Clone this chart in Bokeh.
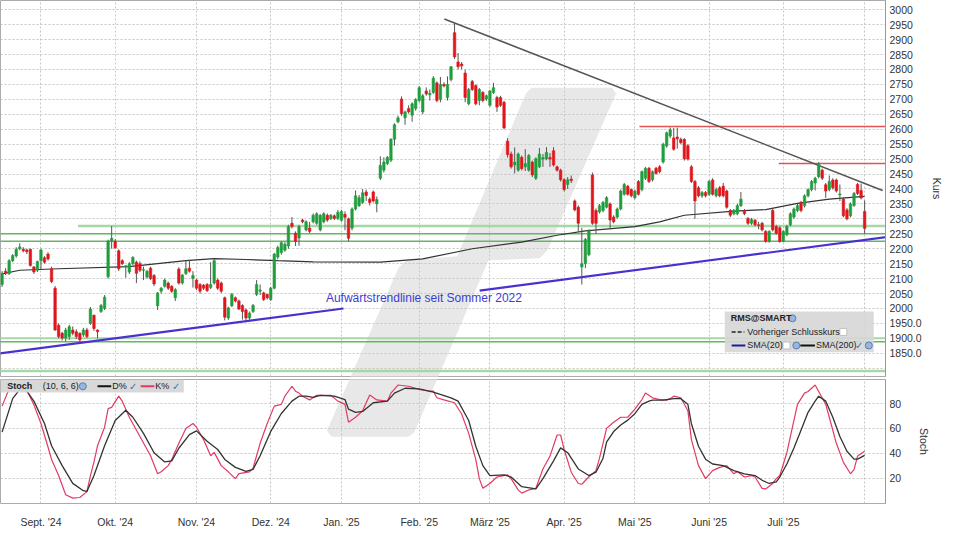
from bokeh.plotting import figure
from bokeh.layouts import column
from bokeh.models import ColumnDataSource, FixedTicker, Range1d, Label
from bokeh.embed import file_html
from bokeh.resources import INLINE

FONT = "Liberation Sans"

# ---------------- data ----------------
# trading-day index 0 = 16 Aug 2024 ... 244 = 1 Aug 2025
opens = [2080,2125,2117,2160,2176,2200,2198,2196,2198,2139,2128,2160,2170,2182,2133,2068,1944,1917,1901,1906,
         1928,1922,1917,1912,1928,1950,1977,1928,1990,2000,2106,2225,2225,2193,2160,2140,2122,2150,2155,2150,
         2128,2105,2135,2110,2009,2058,2074,2085,2074,2036,2132,2085,2117,2135,2100,2095,2080,2078,2080,2070,
         2085,2095,2085,2036,1968,2009,2036,2025,2010,1995,1968,1990,2047,2058,2052,2047,2030,2068,2172,2187,
         2195,2209,2285,2252,2236,2296,2263,2269,2290,2285,2263,2290,2312,2301,2310,2301,2295,2315,2300,2269,
         2333,2344,2355,2390,2366,2390,2350,2436,2463,2485,2496,2566,2625,2701,2638,2669,2647,2669,2696,2658,
         2728,2715,2723,2755,2700,2750,2706,2766,2923,2825,2818,2788,2685,2760,2746,2696,2723,2701,2680,2723,
         2706,2706,2690,2560,2517,2480,2463,2506,2474,2463,2490,2436,2474,2500,2501,2505,2528,2474,2463,2431,
         2415,2433,2360,2339,2139,2150,2180,2447,2328,2323,2328,2339,2350,2306,2306,2333,2382,2409,2398,2371,
         2425,2398,2436,2469,2431,2469,2474,2490,2544,2577,2571,2574,2566,2566,2545,2474,2425,2404,2377,2388,
         2382,2430,2377,2404,2409,2393,2328,2317,2317,2344,2328,2301,2285,2295,2280,2285,2258,2225,2328,2274,
         2270,2225,2247,2280,2306,2328,2355,2344,2377,2398,2420,2441,2463,2414,2398,2430,2430,2380,2366,2330,
         2310,2345,2415,2395,2325]
highs = [2125,2135,2165,2182,2205,2218,2205,2200,2200,2142,2160,2200,2175,2188,2140,2075,1950,1922,1935,1945,
         1940,1930,1920,1935,1935,2005,1980,1930,2015,2045,2230,2276,2232,2198,2165,2145,2155,2175,2160,2158,
         2140,2128,2140,2115,2055,2072,2100,2090,2078,2068,2138,2115,2160,2163,2125,2100,2085,2082,2085,2155,
         2165,2100,2090,2040,2006,2052,2040,2030,2014,2000,1990,2015,2095,2080,2056,2050,2072,2186,2210,2225,
         2222,2280,2306,2258,2280,2300,2295,2290,2318,2322,2316,2322,2318,2316,2315,2330,2330,2325,2304,2338,
         2395,2380,2400,2398,2372,2395,2375,2509,2506,2510,2570,2620,2645,2710,2662,2680,2690,2704,2745,2718,
         2740,2733,2778,2760,2775,2757,2777,2812,2955,2855,2825,2800,2738,2765,2750,2738,2728,2716,2732,2755,
         2712,2712,2695,2570,2525,2539,2522,2512,2533,2517,2495,2506,2537,2517,2540,2520,2540,2478,2468,2436,
         2440,2445,2365,2345,2270,2236,2265,2455,2335,2350,2360,2376,2355,2312,2338,2398,2420,2414,2402,2398,
         2430,2462,2474,2474,2462,2474,2480,2555,2592,2606,2604,2605,2572,2570,2550,2480,2430,2410,2393,2393,
         2430,2436,2405,2410,2420,2398,2333,2333,2350,2390,2333,2306,2303,2300,2290,2290,2262,2262,2335,2280,
         2275,2262,2280,2322,2338,2350,2360,2382,2402,2430,2441,2490,2468,2420,2445,2436,2435,2415,2372,2336,
         2355,2390,2420,2418,2362]
lows = [2072,2112,2112,2155,2170,2195,2188,2182,2140,2116,2122,2130,2150,2160,2085,1925,1900,1893,1890,1895,
        1910,1898,1885,1905,1900,1945,1925,1900,1985,1995,2100,2200,2200,2125,2145,2103,2115,2145,2085,2122,
        2095,2100,2095,2075,1995,2050,2070,2062,2052,2025,2080,2080,2112,2120,2070,2062,2050,2062,2055,2065,
        2080,2062,2052,1960,1962,2005,2020,1995,1963,1960,1962,1985,2042,2045,2025,2030,2025,2064,2165,2180,
        2190,2200,2268,2209,2210,2285,2258,2252,2285,2280,2258,2285,2290,2296,2296,2296,2290,2262,2225,2262,
        2328,2340,2350,2360,2345,2355,2322,2430,2455,2480,2490,2545,2620,2645,2615,2652,2625,2662,2690,2650,
        2712,2696,2718,2690,2690,2740,2696,2760,2835,2800,2800,2690,2680,2728,2680,2680,2690,2695,2675,2718,
        2658,2675,2600,2505,2468,2452,2458,2462,2460,2458,2440,2430,2470,2474,2496,2474,2475,2458,2425,2392,
        2400,2420,2325,2258,2080,2135,2175,2280,2250,2318,2322,2335,2268,2285,2300,2328,2378,2378,2372,2365,
        2378,2392,2430,2420,2425,2448,2452,2485,2538,2570,2528,2535,2550,2495,2495,2420,2300,2372,2370,2372,
        2377,2378,2372,2372,2372,2334,2306,2312,2312,2340,2312,2280,2280,2275,2265,2258,2220,2220,2258,2247,
        2220,2222,2242,2275,2300,2322,2322,2338,2372,2392,2395,2436,2430,2370,2392,2398,2388,2360,2305,2295,
        2305,2340,2380,2365,2250]
closes = [2118,2120,2160,2177,2198,2206,2193,2190,2144,2122,2157,2196,2155,2166,2090,1928,1906,1901,1928,1939,
          1917,1906,1895,1928,1906,1998,1933,1922,2010,2038,2225,2235,2203,2133,2150,2143,2150,2171,2118,2128,
          2130,2125,2100,2082,2052,2068,2095,2068,2058,2063,2085,2112,2133,2125,2110,2068,2058,2068,2060,2080,
          2160,2068,2058,1971,2002,2047,2025,1998,1990,1968,1985,2010,2080,2062,2030,2036,2068,2182,2204,2220,
          2215,2274,2274,2225,2274,2290,2290,2258,2312,2317,2312,2317,2296,2312,2301,2322,2325,2305,2235,2333,
          2377,2371,2387,2378,2355,2360,2365,2479,2490,2506,2566,2615,2638,2652,2658,2658,2685,2699,2739,2712,
          2718,2720,2771,2696,2750,2745,2750,2809,2842,2809,2812,2706,2733,2733,2685,2733,2696,2712,2728,2739,
          2674,2680,2604,2515,2474,2490,2517,2468,2485,2512,2447,2501,2517,2505,2522,2500,2480,2463,2431,2398,
          2431,2428,2330,2285,2150,2231,2260,2285,2285,2344,2355,2371,2296,2290,2333,2393,2415,2382,2377,2393,
          2382,2458,2469,2425,2458,2452,2458,2550,2588,2598,2533,2568,2555,2501,2500,2425,2360,2377,2388,2377,
          2425,2382,2398,2377,2377,2339,2312,2328,2344,2366,2317,2285,2298,2280,2278,2263,2225,2258,2263,2252,
          2225,2258,2274,2317,2333,2344,2328,2377,2398,2425,2436,2485,2436,2393,2425,2404,2393,2383,2310,2300,
          2350,2385,2385,2370,2268]

month_days = [11, 32, 55, 76, 96, 118, 138, 159, 179, 200, 221, 244]
month_labels = ["Sept. '24", "Okt. '24", "Nov. '24", "Dez. '24", "Jan. '25", "Feb. '25",
                "M\u00e4rz '25", "Apr. '25", "Mai '25", "Juni '25", "Juli '25", ""]

price_ticks = list(range(1800, 3001, 50))
stoch_ticks = [20, 40, 60, 80]

sma200_days = [0, 5, 16, 36, 52, 60, 69, 78, 88, 107, 119, 133, 147, 157, 165, 179, 186, 193, 207, 216, 225, 234, 244]
sma200_vals = [2116, 2128, 2133, 2140, 2160, 2167, 2164, 2160, 2156, 2155, 2166, 2200, 2222, 2245, 2260, 2274, 2290,
               2312, 2326, 2331, 2352, 2366, 2375]

k_days = [0,2,5,7,9,11,13,14,16,18,20,22,24,25,26,27,29,30,31,33,34,36,39,42,44,45,47,48,50,52,54,55,57,59,60,62,64,
          66,67,70,71,73,75,77,79,80,82,83,84,85,87,89,93,95,97,98,100,102,104,106,109,110,112,115,118,121,122,123,
          125,128,130,132,134,135,136,138,140,143,144,146,147,149,151,153,155,157,158,159,161,163,164,166,168,169,
          170,171,173,175,177,179,181,182,184,186,188,189,190,192,194,195,197,199,201,203,205,207,208,210,212,213,
          215,216,218,219,220,222,223,225,227,228,230,231,233,234,236,238,240,241,242,244]
k_vals = [78,92,96,91,79,64,45,35,22,6.5,3.8,4.3,9,22,33,46,61,76,77,86,82,69,53.5,38,23.5,25,30,35,48,60,64,61,51,38,
          40.7,30,25,19.5,23.5,25,28,48,64,78,79.4,86,94,90,88.5,86,83,86.7,86.7,82,79.4,65,69,74.3,87,83,82,88.5,95,
          94,91.5,90,90,84.7,83,80.7,71.6,56,35,19.5,11.7,15.6,20.8,22.6,19.5,10.4,7.8,10.4,11.7,27.3,37.7,54.7,54.7,
          43,24.7,15.6,15,21,26,36,48,60,65,69,69,75.5,83.3,88.5,84.7,83.3,82.8,84,86,84.7,74.3,51,30,19.5,26,28.6,30,
          23.4,25.3,20.8,22,20.8,11.7,11.2,15.6,19.5,22,40.4,53.5,79.4,88.5,89.8,95,89.8,79.4,69,48,32.6,23.4,26.8,
          37.7,41.6]

d_days = [0,2,3,5,7,9,12,14,17,20,23,24,26,29,32,35,37,40,43,46,48,50,53,55,58,61,63,66,69,71,73,76,79,82,84,86,88,
          90,94,97,98,100,102,105,109,111,114,118,122,127,129,132,134,136,138,142,144,147,151,153,156,158,160,163,
          166,168,170,171,173,175,177,179,181,183,184,187,190,192,194,195,197,199,201,204,207,210,213,215,217,219,
          220,222,224,226,228,230,231,233,235,237,239,241,242,244]
d_vals = [57,75,84,91.5,90,82,64,46,30,15.7,9.8,9.2,22,46,66.4,74.7,69,56,40.4,33,33.8,44,55,58,49.7,43,35,28.6,25.3,
          27,38,57.6,72,82,86,86,85,86.7,86,83.3,75.5,73,73.7,80.7,82,88.5,92.4,91.9,89.3,84.7,82,66.4,45.6,30,22,
          22.6,20.8,13,11.2,19.5,33.8,44.3,40.4,27.3,22,24.7,36,49,57.5,62.8,66.7,71.9,79.4,82,82.8,82.8,84,84,79.4,
          63.8,45.6,35.2,31.3,30,26,23.4,22,18.2,15.6,16.9,20.8,31.3,44.3,58.6,73,82,86,82,69,53.5,41.6,35.2,35.2,
          38.3]

green_levels = [2276, 2250, 2225, 1900, 1889, 1791]
green_start_days = [21.5, -1, -1, -1, -1, -1]
red_levels = [2609, 2485]
red_start_days = [180.3, 219.7]
down_trend_days = [125.1, 249.1]
down_trend_prices = [2969, 2395]
up_trend_days = [[-1, 96.6], [135.1, 251]]
up_trend_prices = [[1849, 2000], [2060, 2240]]

# ---------------- helpers (reference-pixel geometry for decorations) ----------------
def mx(px):
    return (px - 1.6) / 3.607

def my(py):
    return 3000 - (py - 9.5) * 3.2435

def sy(py):
    return (518.3 - py) / 1.28

GRID = "#c6c6c6"
OUT = "#ababab"
GREEN = "#1f9e3c"
RED = "#e0161c"

n = len(closes)
days = list(range(n))
colors = [GREEN if c >= o else RED for o, c in zip(opens, closes)]
tops = [max(o, c) for o, c in zip(opens, closes)]
bottoms = [min(o, c) for o, c in zip(opens, closes)]
src = ColumnDataSource(dict(x=days, high=highs, low=lows, top=tops, bottom=bottoms, color=colors))

x_range = Range1d(mx(0), mx(903))

# watermark outline (reference pixels)
wm = [(542, 90), (624, 90), (628, 96), (558, 258), (550, 266), (498, 268),
      (422, 446), (416, 450), (338, 450), (333, 444), (406, 276), (414, 268), (466, 264),
      (536, 96)]

# ---------------- main price panel ----------------
p = figure(frame_width=885, frame_height=376, x_range=x_range, y_range=Range1d(my(388), my(0)),
           y_axis_location="right", toolbar_location=None, output_backend="svg",
           min_border_left=0, min_border_top=0, min_border_bottom=3, min_border_right=55)
p.outline_line_color = OUT
p.xaxis.visible = False
p.xgrid.ticker = FixedTicker(ticks=month_days)
p.ygrid.ticker = FixedTicker(ticks=price_ticks)
for g in (p.xgrid, p.ygrid):
    g.grid_line_color = GRID
    g.grid_line_dash = "2 2"
ya = p.yaxis[0]
ya.ticker = FixedTicker(ticks=price_ticks)
ya.major_label_overrides = {1800: "", 1850: "1850.0", 1900: "1900.0", 1950: "1950.0"}
ya.major_label_text_font = FONT
ya.major_label_text_font_size = "10.5px"
ya.major_label_text_color = "#333333"
ya.axis_line_color = "#999999"
ya.major_tick_out = 0
ya.major_tick_in = 0
ya.minor_tick_line_color = None
ya.major_label_standoff = 4
ya.axis_label = "Kurs"
ya.axis_label_text_font = FONT
ya.axis_label_text_font_size = "10.5px"
ya.axis_label_text_font_style = "normal"
ya.axis_label_text_color = "#333333"
ya.axis_label_standoff = 6

p.patch([mx(a) for a, b in wm], [my(b) for a, b in wm], fill_color="#e8e8e8", line_color=None, level="image")

# horizontal support / resistance lines
end_day = mx(903)
for lvl, st, col, w in zip(green_levels, green_start_days,
                           ["#a6d8a6", "#68b468", "#68b468", "#a6d8a6", "#68b468", "#a6d8a6"],
                           [2.5, 1.5, 1.5, 2, 1.5, 2.5]):
    p.segment(x0=[st], y0=[lvl], x1=[end_day], y1=[lvl], line_color=col, line_width=w)
for lvl, st in zip(red_levels, red_start_days):
    p.segment(x0=[st], y0=[lvl], x1=[end_day], y1=[lvl], line_color="#e05555", line_width=1.5)

# trend lines
p.line(down_trend_days, down_trend_prices, line_color="#555555", line_width=1.5)
p.multi_line(up_trend_days, up_trend_prices, line_color="#4a30d0", line_width=2.2)

# SMA 200
p.line(sma200_days, sma200_vals, line_color="#333333", line_width=1.2)

# candles
p.segment(x0="x", y0="low", x1="x", y1="high", source=src, line_color="#555555", line_width=1)
p.vbar(x="x", width=0.7, top="top", bottom="bottom", source=src, fill_color="color", line_color="color",
       line_width=0.6)

p.add_layout(Label(x=mx(332), y=my(307), text="Aufw\u00e4rtstrendlinie seit Sommer 2022", text_font=FONT,
                   text_font_size="12px", text_color="#3c3cd4", text_baseline="middle", text_align="left"))

# legend box
p.quad(left=[mx(739)], right=[mx(891)], top=[my(321)], bottom=[my(363)], fill_color="#d6d6d6",
       fill_alpha=0.9, line_color=None)


def lab(fig, x, y, text, bold=False, color="#222222", size="9px", font=FONT):
    fig.add_layout(Label(x=x, y=y, text=text, text_font=font, text_font_size=size,
                         text_font_style="bold" if bold else "normal", text_color=color,
                         text_baseline="middle", text_align="left"))


lab(p, mx(745), my(328), "RMS@SMART", bold=True)
lab(p, mx(762), my(342), "Vorheriger Schlusskurs")
lab(p, mx(762), my(356), "SMA(20)")
lab(p, mx(832), my(356), "SMA(200)")
lab(p, mx(872), my(356), "\u2713", color="#3a6fc4", size="10px", font="DejaVu Sans")
p.line([mx(746), mx(759)], [my(342), my(342)], line_color="#222222", line_width=1.5, line_dash="4 2")
p.line([mx(746), mx(760)], [my(356), my(356)], line_color="#1c1c9c", line_width=2)
p.line([mx(816), mx(831)], [my(356), my(356)], line_color="#111111", line_width=2)
p.scatter([mx(860), mx(802)], [my(342), my(356)], marker="square", size=7, fill_color="white",
          line_color="#c0c0c0")
p.scatter([mx(808), mx(812), mx(886)], [my(328), my(356), my(356)], marker="circle", size=7,
          fill_color="#9ab6de", line_color="#5a7db5")

# ---------------- stochastic panel ----------------
q = figure(frame_width=885, frame_height=124, x_range=x_range, y_range=Range1d(sy(519), sy(391)),
           y_axis_location="right", toolbar_location=None, output_backend="svg",
           min_border_left=0, min_border_top=0, min_border_bottom=21, min_border_right=55)
q.outline_line_color = OUT
q.xgrid.ticker = FixedTicker(ticks=month_days)
q.ygrid.ticker = FixedTicker(ticks=stoch_ticks)
for g in (q.xgrid, q.ygrid):
    g.grid_line_color = GRID
    g.grid_line_dash = "2 2"
qa = q.yaxis[0]
qa.ticker = FixedTicker(ticks=stoch_ticks)
qa.major_label_text_font = FONT
qa.major_label_text_font_size = "10.5px"
qa.major_label_text_color = "#333333"
qa.axis_line_color = "#999999"
qa.major_tick_out = 0
qa.major_tick_in = 0
qa.minor_tick_line_color = None
qa.major_label_standoff = 4
qa.axis_label = "Stoch"
qa.axis_label_text_font = FONT
qa.axis_label_text_font_size = "10.5px"
qa.axis_label_text_font_style = "normal"
qa.axis_label_text_color = "#333333"
qa.axis_label_standoff = 14
xa = q.xaxis[0]
xa.ticker = FixedTicker(ticks=month_days)
xa.major_label_overrides = {d: l for d, l in zip(month_days, month_labels)}
xa.major_label_text_font = FONT
xa.major_label_text_font_size = "10.5px"
xa.major_label_text_color = "#333333"
xa.axis_line_color = None
xa.major_tick_line_color = None
xa.minor_tick_line_color = None
xa.major_label_standoff = 6

q.patch([mx(a) for a, b in wm], [sy(b) for a, b in wm], fill_color="#e8e8e8", line_color=None, level="image")
q.line(k_days, k_vals, line_color="#e23a62", line_width=1.2)
q.line(d_days, d_vals, line_color="#333333", line_width=1.3)

q.quad(left=[mx(0)], right=[mx(187)], top=[sy(391)], bottom=[sy(404.5)], fill_color="#d6d6d6",
       fill_alpha=0.95, line_color=None)
lab(q, mx(7), sy(398), "Stoch", bold=True)
lab(q, mx(43), sy(398), "(10, 6, 6)")
lab(q, mx(114), sy(398), "D%")
lab(q, mx(158), sy(398), "K%")
lab(q, mx(131), sy(398), "\u2713", color="#3a6fc4", size="10px", font="DejaVu Sans")
lab(q, mx(175), sy(398), "\u2713", color="#3a6fc4", size="10px", font="DejaVu Sans")
q.line([mx(99), mx(113)], [sy(398), sy(398)], line_color="#111111", line_width=2)
q.line([mx(143), mx(157)], [sy(398), sy(398)], line_color="#e23a62", line_width=2)
q.scatter([mx(84)], [sy(398)], marker="circle", size=7, fill_color="#9ab6de", line_color="#5a7db5")

layout = column(p, q, spacing=0)
open("out.html", "w").write(file_html(layout, INLINE, title="RMS Chart"))
